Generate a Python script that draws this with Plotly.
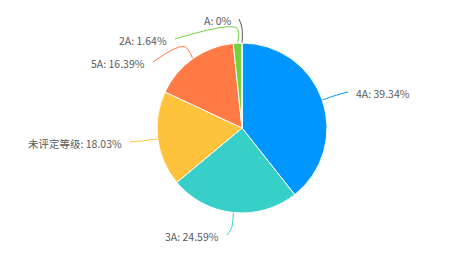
import math
import plotly.graph_objects as go

# ---- data ----
categories = ["4A", "3A", "未评定等级", "5A", "2A", "A"]
percent = [39.34, 24.59, 18.03, 16.39, 1.64, 0.0]
percent_text = ["39.34%", "24.59%", "18.03%", "16.39%", "1.64%", "0%"]
colors = ["#0096FF", "#36D0C8", "#FFC23C", "#FF7A45", "#73D13D", "#595959"]

# ---- layout constants (pixels) ----
W, H = 470, 258
CX, CY, R = 242, 128, 85
L1 = 15
# label line end points (after overlap avoidance), and side
label_end = {
    "4A": (348, 92, "left"),
    "3A": (227, 235, "right"),
    "未评定等级": (130, 142, "right"),
    "5A": (153, 62, "right"),
    "2A": (175, 39, "right"),
    "A": (239, 19, "right"),
}

fig = go.Figure()
fig.add_trace(go.Pie(
    labels=categories, values=percent, sort=False, direction="clockwise",
    rotation=0, marker=dict(colors=colors, line=dict(color="white", width=1)),
    textinfo="none", hoverinfo="label+percent", showlegend=False,
    domain=dict(x=[(CX - R) / W, (CX + R) / W],
                y=[(H - CY - R) / H, (H - CY + R) / H]),
))

total = sum(percent)
cum = 0.0
annotations = []
for cat, v, txt, col in zip(categories, percent, percent_text, colors):
    mid = (cum + v / 2) / total * 2 * math.pi
    cum += v
    ex, ey = CX + R * math.sin(mid), CY - R * math.cos(mid)
    bx, by = CX + (R + L1) * math.sin(mid), CY - (R + L1) * math.cos(mid)
    tx, ty, side = label_end[cat]
    fig.add_trace(go.Scatter(
        x=[ex, bx, tx], y=[ey, by, ty], mode="lines",
        line=dict(color=col, width=1, shape="spline", smoothing=1),
        hoverinfo="skip", showlegend=False, xaxis="x", yaxis="y",
    ))
    annotations.append(dict(
        x=tx + (6 if side == "left" else -6), y=ty + 1, xref="x", yref="y",
        text=f"{cat}: {txt}", showarrow=False,
        xanchor=side, yanchor="middle",
        font=dict(size=10.5, color="#595959", family="Noto Sans CJK SC"),
    ))

fig.update_layout(
    width=W, height=H, margin=dict(l=0, r=0, t=0, b=0),
    paper_bgcolor="white", plot_bgcolor="rgba(0,0,0,0)",
    xaxis=dict(range=[0, W], visible=False, fixedrange=True, domain=[0, 1]),
    yaxis=dict(range=[H, 0], visible=False, fixedrange=True, domain=[0, 1]),
    annotations=annotations,
    font=dict(family="Noto Sans CJK SC"),
)

fig.write_html("out.html")
